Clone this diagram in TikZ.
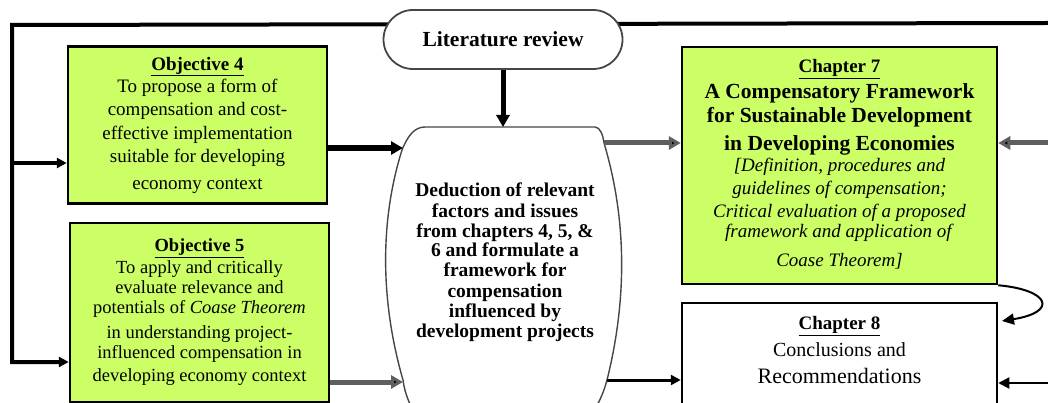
\documentclass[tikz,border=0pt]{standalone}
\usepackage{fontspec}
\setmainfont{Liberation Serif}
\usetikzlibrary{arrows.meta}
\definecolor{objgreen}{RGB}{204,255,102}
\definecolor{edgegray}{RGB}{70,70,70}
\definecolor{arrowgray}{RGB}{95,95,95}
\pgfdeclarelayer{background}
\pgfsetlayers{background,main}
\begin{document}
\begin{tikzpicture}[x=1pt,y=-1pt,
  greenbox/.style={draw=black, line width=2.5pt, fill=objgreen, align=center, inner sep=0pt},
  whitebox/.style={draw=black, line width=2.5pt, fill=white, inner sep=0pt},
  txt/.style={align=center, inner sep=0pt},
  tipbig/.style={-{Triangle[length=12pt,width=13pt]}},
  tipsmall/.style={-{Triangle[length=10pt,width=10pt]}},
  heavy/.style={line width=6pt, tipbig},
  medium/.style={line width=5pt, tipbig},
  light/.style={line width=3pt, tipsmall},
  fine/.style={line width=2pt, tipsmall},
  frame/.style={line width=4pt, line join=miter}
]
\useasboundingbox (0,0) rectangle (1048,403);
\clip (0,0) rectangle (1048,403);

% named points on the outer frame and on the deduction outline
\coordinate (tl) at (12,25);
\coordinate (tr) at (1048,23);
\coordinate (lm) at (12,163);
\coordinate (lb) at (12,362);
\coordinate (dedtop) at (503,127);
\coordinate (dedL1) at (403,148);
\coordinate (dedL2) at (403,382);
\coordinate (dedR1) at (604,143);
\coordinate (dedR2) at (607,380);
\coordinate (inR1) at (1048,143);
\coordinate (inR2) at (1048,383);
\coordinate (c8in) at (1002,321);

% literature review
\node[draw=edgegray, line width=1.8pt, fill=white, rounded corners=29.5pt,
      minimum width=239pt, minimum height=59pt, inner sep=0pt,
      font=\fontsize{21.5}{24}\selectfont\bfseries] (lit) at (503,39.5) {Literature review};

% objectives
\node[greenbox, minimum width=259pt, minimum height=157pt,
      font=\fontsize{19}{23}\selectfont] (obj4) at (197.5,125)
  {\textbf{\underline{Objective 4}}\\[-1pt]
   To propose a form of\\
   compensation and cost-\\[1pt]
   effective implementation\\
   suitable for developing\\[4pt]
   economy context};

\node[greenbox, minimum width=259pt, minimum height=179pt,
      font=\fontsize{18.5}{21}\selectfont] (obj5) at (199.5,312.5)
  {\textbf{\underline{Objective 5}}\\[1pt]
   To apply and critically\\[-1pt]
   evaluate relevance and\\[-1pt]
   potentials of \textit{Coase Theorem}\\[4pt]
   in understanding project-\\[-1pt]
   influenced compensation in\\[2pt]
   developing economy context};

% deduction outline
\draw[draw=edgegray, line width=1.4pt, fill=white]
  (425,127) -- (595,127)
  .. controls (600,127) and (603,135) .. (604,143)
  .. controls (627,220) and (627,300) .. (607,380)
  .. controls (603,395) and (598,405) .. (588,420)
  -- (418,420)
  .. controls (410,405) and (405,395) .. (403,380)
  .. controls (380,300) and (380,220) .. (402,150)
  .. controls (408,135) and (415,127) .. cycle;
\node[txt, font=\fontsize{19.5}{20}\selectfont\bfseries] (dedtext) at (505,262)
  {Deduction of relevant\\[1pt]
   factors and issues\\
   from chapters 4, 5, \&\\[-1pt]
   6 and formulate a\\
   framework for\\[1pt]
   compensation\\
   influenced by\\
   development projects};

% chapters
\node[greenbox, minimum width=315pt, minimum height=237pt] (ch7) at (839.5,165.5) {};
\node[txt, font=\fontsize{19}{23}\selectfont] (ch7text) at (839.5,164)
  {\textbf{\underline{Chapter 7}}\\[3pt]
   {\fontsize{21.5}{23}\selectfont\bfseries A Compensatory Framework}\\[1pt]
   {\fontsize{21.5}{23}\selectfont\bfseries for Sustainable Development}\\[5pt]
   {\fontsize{21.5}{23}\selectfont\bfseries in Developing Economies}\\[-2pt]
   \textit{[Definition, procedures and}\\
   \textit{guidelines of compensation;}\\
   \textit{Critical evaluation of a proposed}\\[-3pt]
   \textit{framework and application of}\\[6pt]
   \textit{Coase Theorem]}};

\node[whitebox, minimum width=315pt, minimum height=120pt] (ch8) at (839.5,363) {};
\node[txt, font=\fontsize{20}{27}\selectfont] (ch8text) at (839.5,350)
  {{\fontsize{19}{27}\selectfont\textbf{\underline{Chapter 8}}}\\
   Conclusions and\\
   {\fontsize{22}{27}\selectfont Recommendations}};

% outer feedback frame, behind the literature review
\begin{pgfonlayer}{background}
  \fill[white] (0,0) rectangle (1048,403);
  \draw[frame] (tr) -- (tl) -- (lb) -- ([xshift=-8pt]lb -| obj5.west);
\end{pgfonlayer}
\draw[line width=4pt, tipsmall] (lb) -- (lb -| obj5.west);
\draw[line width=4pt, tipsmall] (lm) -- (lm -| obj4.west);

% flow into and out of the deduction step
\draw[medium] (lit.south) -- (dedtop);
\draw[heavy] (obj4.east |- dedL1) -- (dedL1);
\draw[medium, draw=arrowgray, -{Triangle[length=12pt,width=13pt,fill=black]}] (obj5.east |- dedL2) -- (dedL2);
\draw[medium, draw=arrowgray, -{Triangle[length=12pt,width=13pt,fill=black]}] (dedR1) -- (dedR1 -| ch7.west);
\draw[light] (dedR2) -- (dedR2 -| ch8.west);

% inputs from the right
\draw[medium, draw=arrowgray, -{Triangle[length=12pt,width=13pt,fill=black]}] (inR1) -- (inR1 -| ch7.east);
\draw[fine, -{Triangle[length=11pt,width=11pt]}] (inR2) -- (inR2 -| ch8.east);

% chapter 7 leads on to chapter 8
\draw[fine, -{Triangle[length=12pt,width=11pt]}] (ch7.south east)
  .. controls (1050,290) and (1058,312) .. (c8in);
\end{tikzpicture}
\end{document}
